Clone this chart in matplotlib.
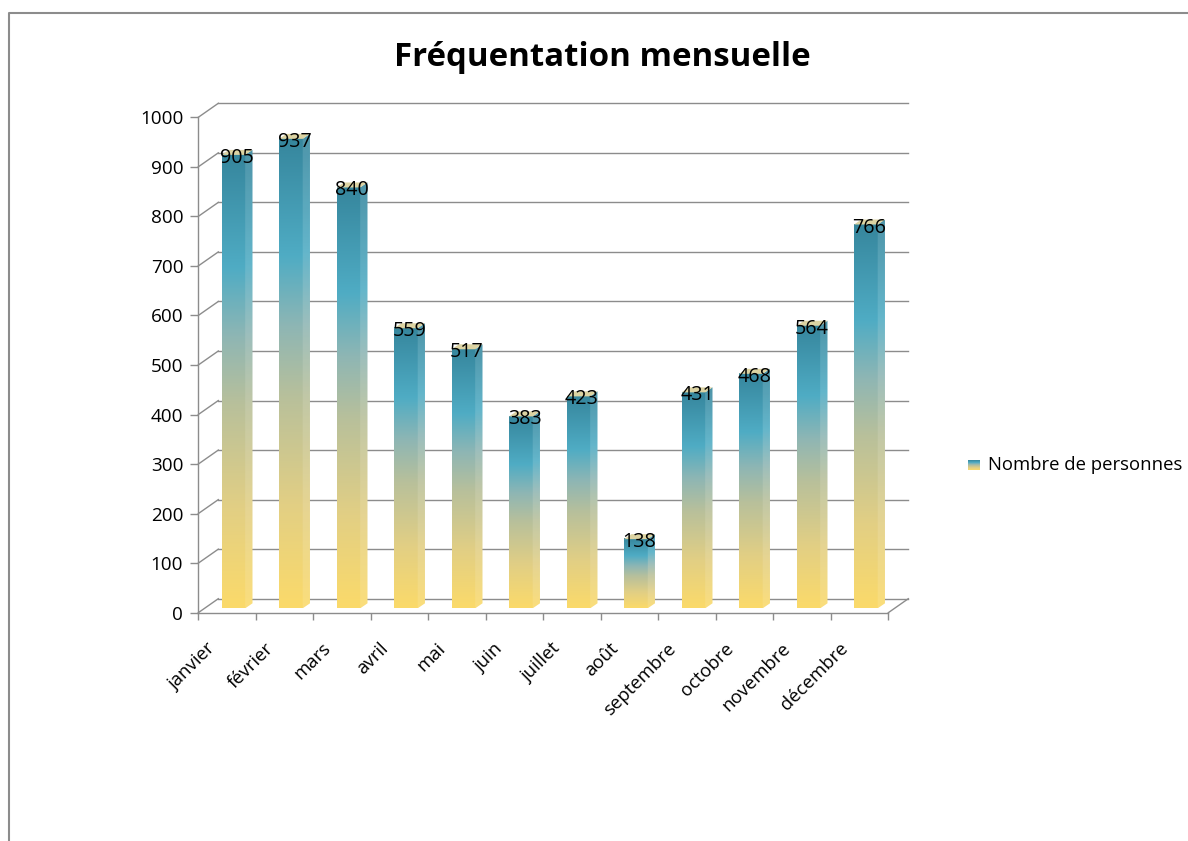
import matplotlib
matplotlib.use('Agg')
import matplotlib.pyplot as plt
import numpy as np
from matplotlib.colors import LinearSegmentedColormap
from matplotlib.patches import Polygon
from matplotlib.lines import Line2D
from matplotlib.transforms import ScaledTranslation, blended_transform_factory

plt.rcParams['font.family'] = ['Open Sans', 'DejaVu Sans']

mois = ['janvier', 'février', 'mars', 'avril', 'mai', 'juin', 'juillet',
        'août', 'septembre', 'octobre', 'novembre', 'décembre']
personnes = [905, 937, 840, 559, 517, 383, 423, 138, 431, 468, 564, 766]
graduations = list(range(0, 1001, 100))

W, H = 1188, 841
fig = plt.figure(figsize=(W / 100, H / 100), dpi=100)
grey = '#8c8c8c'
taille = 13.3

# degradé jaune -> bleu -> bleu canard, comme dans Excel
degrade = LinearSegmentedColormap.from_list('freq', [
    (0.0, '#fbda6a'), (0.22, '#e2cf84'), (0.45, '#b8c09b'),
    (0.60, '#8eb6b4'), (0.75, '#4facc4'), (1.0, '#36869d')])

# axe "avant" : graduations, lignes de fond
ax = fig.add_axes([198.3 / W, (H - 612.7) / H, 690 / W, 495.4 / H])
ax.set_xlim(0, 12)
ax.set_ylim(0, 1000)
ax.patch.set_visible(False)
for s in ['top', 'right']:
    ax.spines[s].set_visible(False)
for s in ['left', 'bottom']:
    ax.spines[s].set_color(grey)
    ax.spines[s].set_linewidth(1)
ax.set_yticks(graduations)
ax.tick_params(axis='y', length=5.8, width=1, color=grey, labelsize=13.6, pad=5)
ax.set_xticks(range(13))
ax.set_xticklabels([])
ax.tick_params(axis='x', length=5, width=1, color=grey)

# mur du fond décalé en perspective (20 px à droite, 14 px plus haut)
px_x = 690 / 12
px_y = 495.4 / 1000
recul = ax.transData + ScaledTranslation(0.20, 0.14, fig.dpi_scale_trans)
for g in graduations:
    ax.plot([0, 12], [g, g], color=grey, lw=1, transform=recul, zorder=1, clip_on=False)
    ax.add_line(Line2D([0, 20 / px_x], [g, g + 14 / px_y],
                       color=grey, lw=1, zorder=1, clip_on=False))
ax.add_line(Line2D([12, 12 + 20 / px_x], [0, 14 / px_y], color=grey, lw=1, clip_on=False))

# étiquettes des mois
trans_x = blended_transform_factory(ax.transData, ax.transAxes) + \
    ScaledTranslation(-0.14, -0.33, fig.dpi_scale_trans)
for i, m in enumerate(mois):
    ax.text(i + 0.5, 0, m, transform=trans_x, rotation=45, ha='right', va='center',
            rotation_mode='anchor', fontsize=taille)

# axe des barres
axb = fig.add_axes([198.3 / W, (H - 608.3) / H, 690 / W, 501 / H])
axb.axis('off')
bx = 690 / 12
by = 501 / 1000
dx = 7.3 / bx
dy = 5 / by
larg = 0.41
grad = np.linspace(0, 1, 256).reshape(-1, 1)

for i, v in enumerate(personnes):
    x0 = i + 0.405
    x1 = x0 + larg
    axb.imshow(grad, extent=(x0, x1, 0, v), origin='lower', aspect='auto',
               cmap=degrade, interpolation='bicubic', zorder=2)
    cote = Polygon([(x1, 0), (x1 + dx, dy), (x1 + dx, v + dy), (x1, v)],
                   closed=True, transform=axb.transData, fc='none', ec='none')
    axb.add_patch(cote)
    im = axb.imshow(grad, extent=(x1, x1 + dx, 0, v + dy), origin='lower',
                    aspect='auto', cmap=degrade, interpolation='bicubic', zorder=2)
    im.set_clip_path(cote)
    axb.add_patch(Polygon([(x1, 0), (x1 + dx, dy), (x1 + dx, v + dy), (x1, v)],
                          closed=True, fc='white', alpha=0.12, ec='none', zorder=3))
    axb.add_patch(Polygon([(x0, v), (x1, v), (x1 + dx, v + dy), (x0 + dx, v + dy)],
                          closed=True, fc='#dcd3a2', ec='none', zorder=3))
    axb.text(x0 + (larg + dx) / 2, v - 6, str(v), ha='center', va='center',
             fontsize=14.2, zorder=5)

axb.set_xlim(0, 12)
axb.set_ylim(0, 1000)

# titre
fig.text(602 / W, 1 - 57 / H, 'Fréquentation mensuelle', ha='center', va='center',
         fontsize=23.8, fontweight='bold')

# légende
axl = fig.add_axes([968 / W, (H - 470) / H, 12 / W, 10 / H])
axl.imshow(grad, extent=(0, 1, 0, 1), origin='lower', aspect='auto', cmap=degrade)
axl.axis('off')
fig.text(988 / W, 1 - 465 / H, 'Nombre de personnes', ha='left', va='center', fontsize=taille)

# cadre
fig.add_artist(Line2D([9 / W, 9 / W, 1], [0, 1 - 13 / H, 1 - 13 / H],
                      color=grey, lw=1.5, transform=fig.transFigure))

fig.savefig('out.png', dpi=100)
